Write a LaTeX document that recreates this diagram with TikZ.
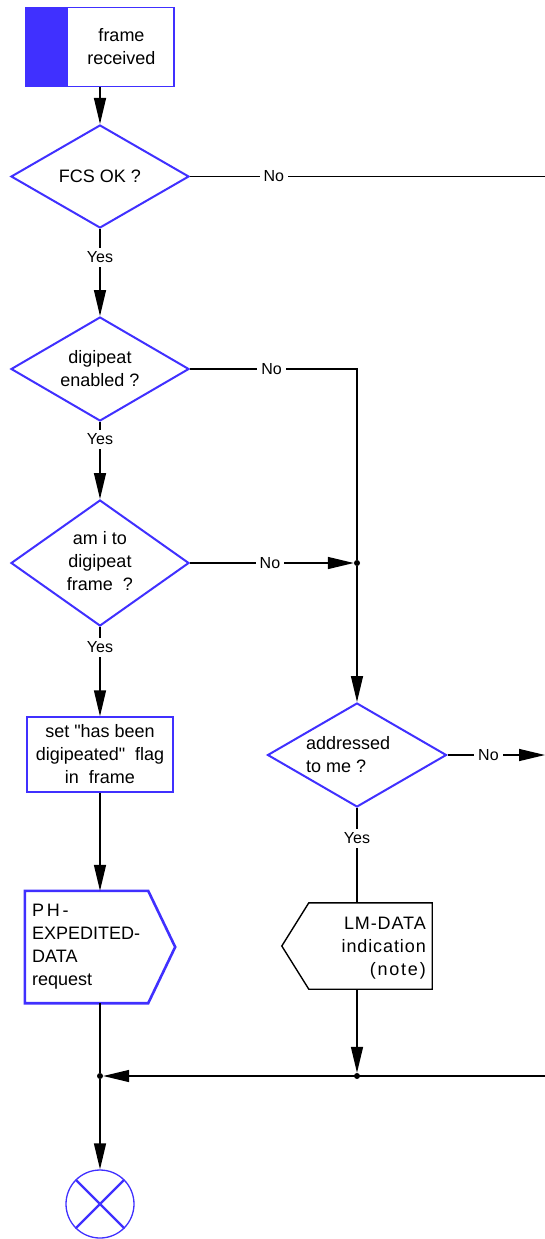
\documentclass[tikz,border=0pt]{standalone}
\usepackage{fontspec}
\setmainfont{Liberation Sans}[Ligatures=TeXOff]
\usetikzlibrary{arrows.meta,shapes.geometric}
\definecolor{sdlblue}{RGB}{64,48,255}
\begin{document}
\begin{tikzpicture}[x=1pt,y=-1pt,
  txt/.style={font=\fontsize{18}{23}\selectfont, align=center, inner sep=0pt},
  lbl/.style={font=\fontsize{16}{18}\selectfont, fill=white, inner sep=4pt},
  conn/.style={line width=1.4pt, draw=black},
  arr/.style={conn, -{Triangle[length=26pt,width=12pt]}},
  dia/.style={diamond, draw=sdlblue, line width=2pt, inner sep=0pt},
  jdot/.style={circle, fill=black, inner sep=0pt, minimum size=6pt}
]
\useasboundingbox (0,0) rectangle (545,1239);

% start
\node[draw=sdlblue, line width=1.3pt, minimum width=148pt, minimum height=79pt, inner sep=0pt] (start) at (100,47) {};
\fill[sdlblue] (start.north west) rectangle ([xshift=43pt]start.south west);
\node[txt] (starttxt) at (121.5,47) {frame\\received};

% decisions
\node[dia, minimum width=178pt, minimum height=103pt] (d1) at (100,176.5) {};
\node[txt] (d1t) at (100,176) {FCS OK ?};
\node[dia, minimum width=178pt, minimum height=104pt] (d2) at (100,369) {};
\node[txt] (d2t) at (100,368.5) {digipeat\\enabled ?};
\node[dia, minimum width=178pt, minimum height=126pt] (d3) at (100,563) {};
\node[txt] (d3t) at (100,561.5) {am i to\\digipeat\\frame\ \ ?};
\node[dia, minimum width=179pt, minimum height=104pt] (d4) at (357,755) {};
\node[txt, align=left, anchor=west] (d4t) at (306,754.5) {addressed\\to me ?};

% task
\node[txt, draw=sdlblue, line width=1.4pt, minimum width=146pt, minimum height=75pt] (setb) at (100,754.5) {set "has been\\digipeated"\ \ flag\\in\ \ frame};

% output PH
\node[minimum width=150pt, minimum height=112pt, inner sep=0pt] (ph) at (100,947) {};
\draw[sdlblue, line width=2.6pt, line join=miter] (ph.north west) -- ([xshift=-27pt]ph.north east) -- (ph.east) -- ([xshift=-27pt]ph.south east) -- (ph.south west) -- cycle;
\node[txt, align=left, anchor=west] (pht) at (32,947) {{\addfontfeatures{LetterSpace=15}PH-}\\EXPEDITED-\\DATA\\request};

% input LM
\node[minimum width=150pt, minimum height=86pt, inner sep=0pt] (lm) at (357,946) {};
\draw[black, line width=1.4pt, line join=miter] ([xshift=27pt]lm.north west) -- (lm.north east) -- (lm.south east) -- ([xshift=27pt]lm.south west) -- (lm.west) -- cycle;
\node[txt, align=right, anchor=east] (lmt) at (426,948) {{\addfontfeatures{LetterSpace=5}LM-DATA}\\{\addfontfeatures{LetterSpace=5}indication}\\{\addfontfeatures{LetterSpace=10}(note)}};

% stop
\node[circle, draw=sdlblue, line width=1.3pt, minimum size=68pt, inner sep=0pt] (stop) at (100,1204) {};
\draw[sdlblue, line width=2.2pt] (stop.north west) -- (stop.south east) (stop.north east) -- (stop.south west);

% junctions and free ends
\coordinate (eR1) at (545,176.5);
\coordinate (eR2) at (545,755);
\coordinate (eR3) at (545,1076);
\node[jdot] (j1) at (357,563) {};
\node[jdot] (j2) at (357,1076) {};
\node[jdot] (j3) at (100,1076) {};

% connectors
\draw[arr] (start) -- (d1);
\draw[conn] (d1.east) -- node[lbl, pos=0.236] {No} (eR1);
\draw[arr] (d1.south) -- node[lbl, pos=0.326] {Yes} (d2.north);
\draw[conn] (d2.east) -| node[lbl, pos=0.244] {No} (j1);
\draw[arr] (d2.south) -- node[lbl, pos=0.228] {Yes} (d3.north);
\draw[arr] (d3.east) -- node[lbl, pos=0.488] {No} (j1);
\draw[arr] (j1) -- (d4.north);
\draw[arr] (d3.south) -- node[lbl, pos=0.23] {Yes} (setb.north);
\draw[arr] (setb.south) -- (ph.north);
\draw[arr] (d4.east) -- node[lbl, pos=0.42] {No} (eR2);
\draw[conn] (d4.south) -- node[lbl, pos=0.32] {Yes} (lm.north);
\draw[arr] (lm.south) -- (j2);
\draw[arr] (eR3) -- (j3);
\draw[conn] (ph.south) -- (j3);
\draw[arr] (j3) -- (stop.north);
\end{tikzpicture}
\end{document}
